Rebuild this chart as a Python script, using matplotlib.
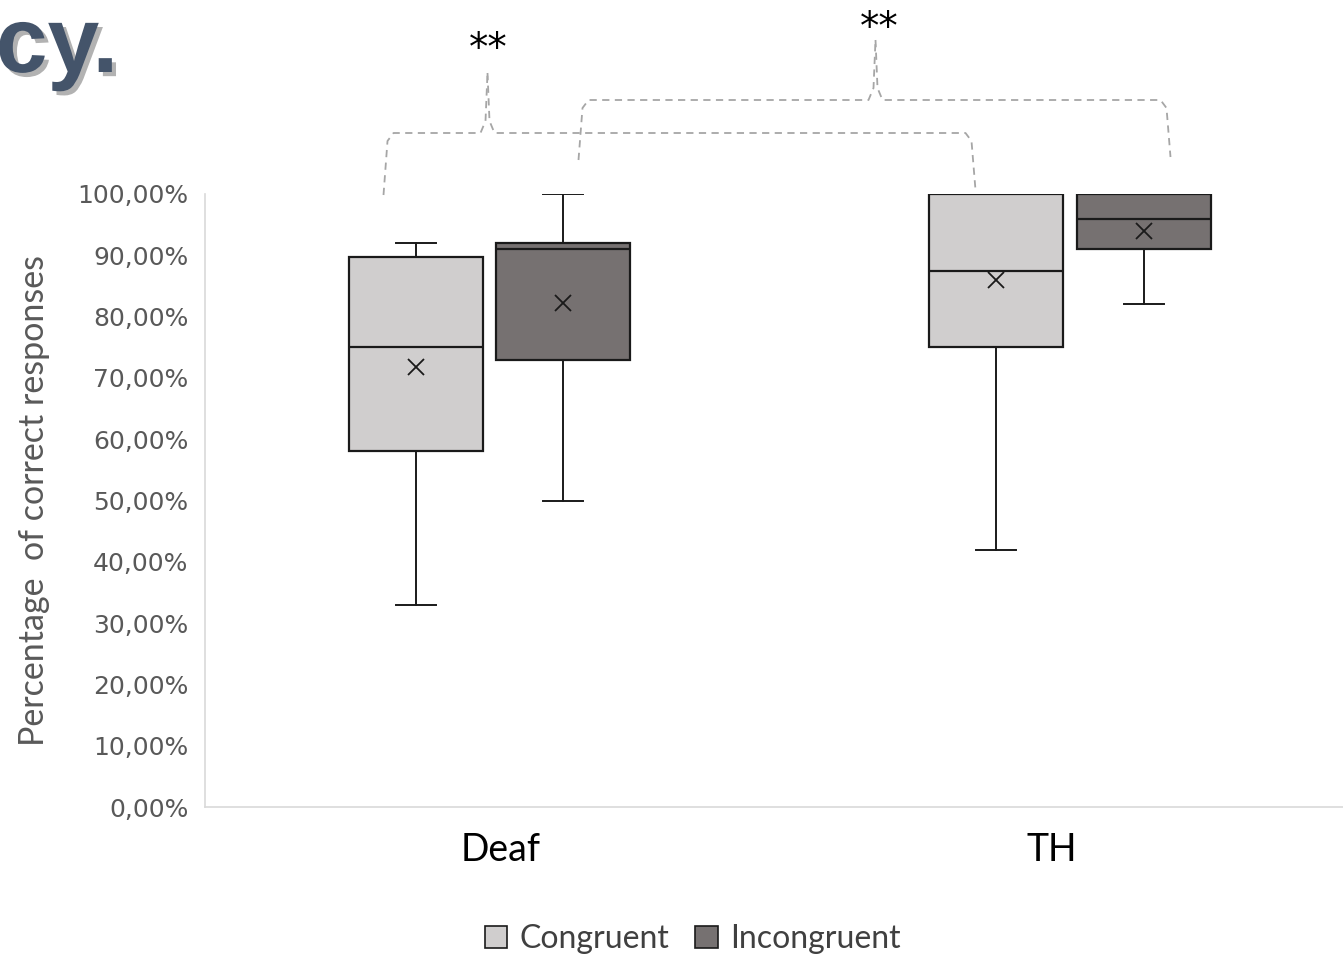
import matplotlib
matplotlib.use("Agg")
import matplotlib.pyplot as plt
import matplotlib.patheffects as pe
from matplotlib.patches import Patch

# ---------------- data ----------------
groups = ["Deaf", "TH"]
conditions = ["Congruent", "Incongruent"]
# five-number summaries + mean (percent)
whislo = {"Congruent": [33.0, 42.0], "Incongruent": [50.0, 82.0]}
q1     = {"Congruent": [58.0, 75.0], "Incongruent": [73.0, 91.0]}
med    = {"Congruent": [75.0, 87.5], "Incongruent": [91.0, 96.0]}
q3     = {"Congruent": [89.7, 100.0], "Incongruent": [92.0, 100.0]}
whishi = {"Congruent": [92.0, 100.0], "Incongruent": [100.0, 100.0]}
means  = {"Congruent": [71.8, 86.0], "Incongruent": [82.2, 94.0]}
yticks = [0, 10, 20, 30, 40, 50, 60, 70, 80, 90, 100]
ytick_labels = ["0,00%", "10,00%", "20,00%", "30,00%", "40,00%", "50,00%",
                "60,00%", "70,00%", "80,00%", "90,00%", "100,00%"]
signif = ["**", "**"]

colors = {"Congruent": "#D0CECE", "Incongruent": "#767171"}

W, H = 1343, 958
fig = plt.figure(figsize=(W / 100, H / 100), dpi=100)
ax = fig.add_axes([205 / W, 1 - 807 / H, 1 - 205 / W, (807 - 194) / H])

px_per_unit = 569.0
def px2x(p):
    return (p - 489.0) / px_per_unit

group_pos = [0.0, 1.02]
offsets = {"Congruent": -0.13, "Incongruent": 0.13}
box_w = 134 / px_per_unit

for cond in conditions:
    stats = []
    pos = []
    for i, g in enumerate(groups):
        stats.append(dict(whislo=whislo[cond][i], q1=q1[cond][i], med=med[cond][i],
                          q3=q3[cond][i], whishi=whishi[cond][i], mean=means[cond][i],
                          fliers=[], label=g))
        pos.append(group_pos[i] + offsets[cond])
    ax.bxp(stats, positions=pos, widths=box_w, showmeans=True, patch_artist=True,
           capwidths=40 / px_per_unit,
           boxprops=dict(facecolor=colors[cond], edgecolor="#1a1a1a", linewidth=1.6),
           medianprops=dict(color="#1a1a1a", linewidth=1.6),
           whiskerprops=dict(color="#1a1a1a", linewidth=1.4),
           capprops=dict(color="#1a1a1a", linewidth=1.4),
           meanprops=dict(marker="x", markeredgecolor="#1a1a1a", markersize=11,
                          markeredgewidth=1.3))

ax.set_xlim(-0.5, 1.5)
ax.set_ylim(0, 100)
ax.set_yticks(yticks)
ax.set_yticklabels(ytick_labels, fontsize=18, color="#595959", family="DejaVu Sans")
ax.set_xticks([px2x(500), px2x(1051)])
ax.set_xticklabels(groups, fontsize=27, color="black", family="Lato")
ax.tick_params(axis="both", length=0)
ax.tick_params(axis="y", pad=12)
ax.tick_params(axis="x", pad=18)
for s in ["top", "right"]:
    ax.spines[s].set_visible(False)
for s in ["left", "bottom"]:
    ax.spines[s].set_color("#D9D9D9")
    ax.spines[s].set_linewidth(1.2)
ax.set_ylabel("Percentage  of correct responses", fontsize=24.5, color="#595959",
              family="Lato")
ax.yaxis.set_label_coords((50 - 205) / (W - 205), (807 - 500) / (807 - 194))

# ---------------- significance braces ----------------
def yv(p):
    return (807.0 - p) / 6.13

def brace(xl, yl_bot, xr, yr_bot, ytop, xpeak, ypeak):
    xs = [xl, xl + 4, xl + 10, xpeak - 7, xpeak - 2, xpeak,
          xpeak, xpeak + 2, xpeak + 7, xr - 10, xr - 4, xr]
    ys = [yl_bot, ytop + 8, ytop, ytop, ytop - 12, ypeak,
          ypeak, ytop - 12, ytop, ytop, ytop + 8, yr_bot]
    for sx, sy in [(xs[:6], ys[:6]), (xs[6:], ys[6:])]:
        ax.plot([px2x(v) for v in sx], [yv(v) for v in sy], ls=(0, (4, 3)),
                color="#A6A6A6", lw=1.3, clip_on=False)

brace(383, 195, 975, 190, 133, 487, 73)
brace(578, 160, 1170, 157, 100, 875, 40)
ax.text(px2x(488), yv(60), signif[0], ha="center", va="baseline", fontsize=28,
        family="DejaVu Sans", clip_on=False)
ax.text(px2x(879), yv(39), signif[1], ha="center", va="baseline", fontsize=28,
        family="DejaVu Sans", clip_on=False)

# ---------------- cropped title ----------------
fig.text(118 / W, 1 - 72 / H, "cy.", ha="right", va="baseline", fontsize=67,
         fontweight="heavy", family="Liberation Sans", color="#44546A",
         path_effects=[pe.withSimplePatchShadow(offset=(3, -3), shadow_rgbFace="#000000", alpha=0.3)])

# ---------------- legend ----------------
handles = [Patch(facecolor=colors[c], edgecolor="#1a1a1a", linewidth=1.2, label=c)
           for c in conditions]
fig.legend(handles=handles, loc="center", bbox_to_anchor=(693 / W, 1 - 939 / H),
           ncol=2, frameon=False, handlelength=0.7, handleheight=0.7,
           handletextpad=0.4, columnspacing=0.8,
           prop=dict(family="Lato", size=23), labelcolor="#404040")

fig.savefig("out.png", dpi=100)
